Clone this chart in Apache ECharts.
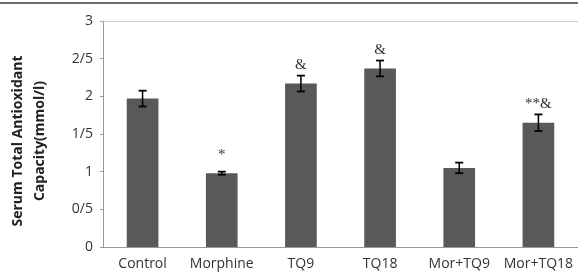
<!DOCTYPE html>
<html>
<head>
<meta charset="utf-8">
<script src="https://cdn.jsdelivr.net/npm/echarts@6/dist/echarts.min.js"></script>
<style>
html,body{margin:0;padding:0;background:#fff;}
#chart{width:578px;height:275px;}
</style>
</head>
<body>
<div id="chart"></div>
<script>
var categories = ['Control', 'Morphine', 'TQ9', 'TQ18', 'Mor+TQ9', 'Mor+TQ18'];
var values = [1.97, 0.98, 2.17, 2.37, 1.05, 1.65];
var errors = [0.105, 0.02, 0.105, 0.105, 0.07, 0.11];
var annotations = ['', '*', '&', '&', '', '**&'];
var yTickLabels = ['0', '0/5', '1', '1/5', '2', '2/5', '3'];

var chart = echarts.init(document.getElementById('chart'), null, {renderer: 'canvas'});

var errData = categories.map(function (c, i) { return [i, values[i], errors[i]]; });

var option = {
  animation: false,
  backgroundColor: '#fff',
  grid: {left: 103, right: 0, top: 21, bottom: 28, containLabel: false},
  graphic: [
    {type: 'line', shape: {x1: 0, y1: 3, x2: 578, y2: 3}, style: {stroke: '#3a3a3a', lineWidth: 1.5}},
    {type: 'text', x: 29, y: 141, rotation: Math.PI / 2,
     style: {text: 'Serum Total Antioxidant\nCapacity(mmol/l)', fontFamily: 'Open Sans', fontWeight: 'bold',
             fontSize: 14, lineHeight: 22, fill: '#222', align: 'center', verticalAlign: 'middle'}}
  ],
  xAxis: [{
    type: 'category', data: categories, position: 'bottom',
    axisLine: {lineStyle: {color: '#999', width: 1}},
    axisTick: {show: false},
    axisLabel: {color: '#333', fontSize: 14, fontFamily: 'Open Sans', margin: 10, interval: 0}
  }, {
    type: 'category', data: categories, position: 'top',
    axisLine: {lineStyle: {color: '#ccc', width: 1}},
    axisTick: {show: false}, axisLabel: {show: false}
  }],
  yAxis: {
    type: 'value', min: 0, max: 3, interval: 0.5,
    axisLine: {show: true, lineStyle: {color: '#999', width: 1}},
    axisTick: {show: true, length: 3, lineStyle: {color: '#999'}},
    splitLine: {show: false},
    axisLabel: {color: '#333', fontSize: 14, fontFamily: 'Open Sans', margin: 10,
      formatter: function (v) { return yTickLabels[Math.round(v / 0.5)]; }}
  },
  series: [{
    type: 'bar', data: values, barWidth: '40%', xAxisIndex: 0,
    itemStyle: {color: '#595959'}
  }, {
    type: 'custom', xAxisIndex: 0, data: errData, z: 10,
    renderItem: function (params, api) {
      var x = api.value(0), v = api.value(1), e = api.value(2);
      var txt = annotations[params.dataIndex];
      var top = api.coord([x, v + e]);
      var bot = api.coord([x, v - e]);
      var cap = 4;
      var children = [
        {type: 'line', shape: {x1: top[0], y1: top[1], x2: bot[0], y2: bot[1]}, style: {stroke: '#000', lineWidth: 1.5}},
        {type: 'line', shape: {x1: top[0] - cap, y1: top[1], x2: top[0] + cap, y2: top[1]}, style: {stroke: '#000', lineWidth: 1.8}},
        {type: 'line', shape: {x1: bot[0] - cap, y1: bot[1], x2: bot[0] + cap, y2: bot[1]}, style: {stroke: '#000', lineWidth: 1.8}}
      ];
      if (txt) {
        var gap = /^\*+$/.test(txt) ? 9 : 3;
        children.push({type: 'text', x: top[0], y: top[1] - gap,
          style: {text: txt, fontFamily: 'Liberation Serif', fontSize: 15, fill: '#333', align: 'center', verticalAlign: 'bottom'}});
      }
      return {type: 'group', children: children};
    }
  }]
};
chart.setOption(option);
</script>
</body>
</html>
